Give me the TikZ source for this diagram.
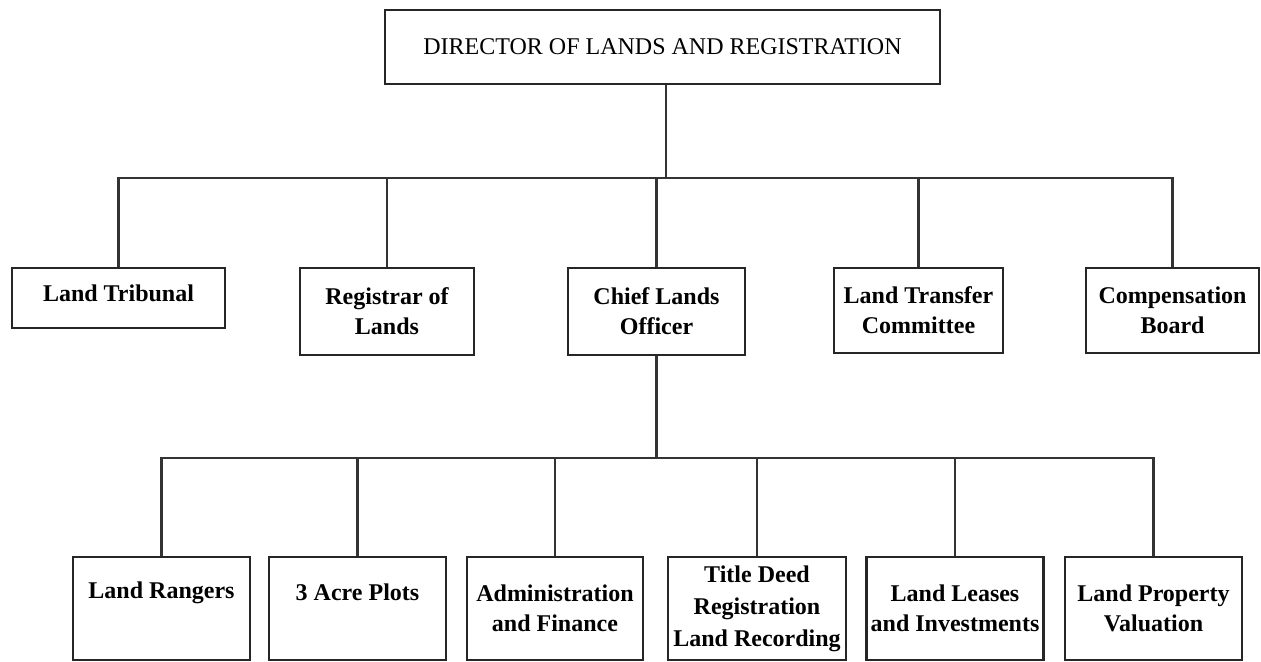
\documentclass[tikz,border=0pt]{standalone}
\usepackage{fontspec}
\setmainfont{Liberation Serif}
\usepackage{tikz}
\usetikzlibrary{positioning, calc}

\begin{document}
\begin{tikzpicture}[x=0.5pt, y=-0.5pt,
    box/.style={draw=black!85, line width=1.2pt, align=center, inner sep=2pt,
        font=\bfseries\fontsize{12}{15}\selectfont},
    sz/.style 2 args={minimum width=#1*0.5pt, minimum height=#2*0.5pt},
    link/.style={draw=black!80, line width=1.2pt}]
    % page frame (pixel units, y downwards)
    \useasboundingbox (0,0) rectangle (1261,662);

    % Head of the department
    \node[box, sz={555}{74}, font=\fontsize{12}{15}\selectfont] (dir) at (662.5,47)
        {DIRECTOR OF LANDS AND REGISTRATION};
    \coordinate (dirfoot) at ($(dir.south)+(3.5,0)$);

    % First level
    \node[box, sz={213}{60}, text depth=5pt] (tribunal) at (118.5,298) {Land Tribunal};
    \node[box, sz={174}{87}] (registrar) at (387,311.5) {Registrar of\\Lands};
    \node[box, sz={177}{87}] (chief) at (656.5,311.5) {Chief Lands\\Officer};
    \node[box, sz={169}{85}] (transfer) at (918.5,310.5) {Land Transfer\\Committee};
    \node[box, sz={173}{85}] (compensation) at (1172.5,310.5) {Compensation\\Board};

    % Second level, under the Chief Lands Officer
    \node[box, sz={177}{103}, text depth=18pt] (rangers) at (161.5,608.5) {Land Rangers};
    \node[box, sz={177}{103}, text depth=16pt] (acres) at (357.5,608.5) {3 Acre Plots};
    \node[box, sz={176}{103}] (admin) at (555,608.5) {Administration\\and Finance};
    \node[box, sz={178}{103}, font=\bfseries\fontsize{12}{16}\selectfont] (title) at (757,608.5)
        {Title Deed\\Registration\\Land Recording};
    \node[box, sz={176}{103}] (leases) at (955,608.5) {Land Leases\\and Investments};
    \node[box, sz={177}{103}] (valuation) at (1153.5,608.5) {Land Property\\Valuation};

    % Connectors
    \foreach \n in {tribunal, registrar, chief, transfer, compensation}
        \draw[link] (dirfoot) -- ++(0,93) -| (\n.north);
    \foreach \n in {rangers, acres, admin, title, leases, valuation}
        \draw[link] (chief.south) -- ++(0,102) -| (\n.north);
\end{tikzpicture}
\end{document}
